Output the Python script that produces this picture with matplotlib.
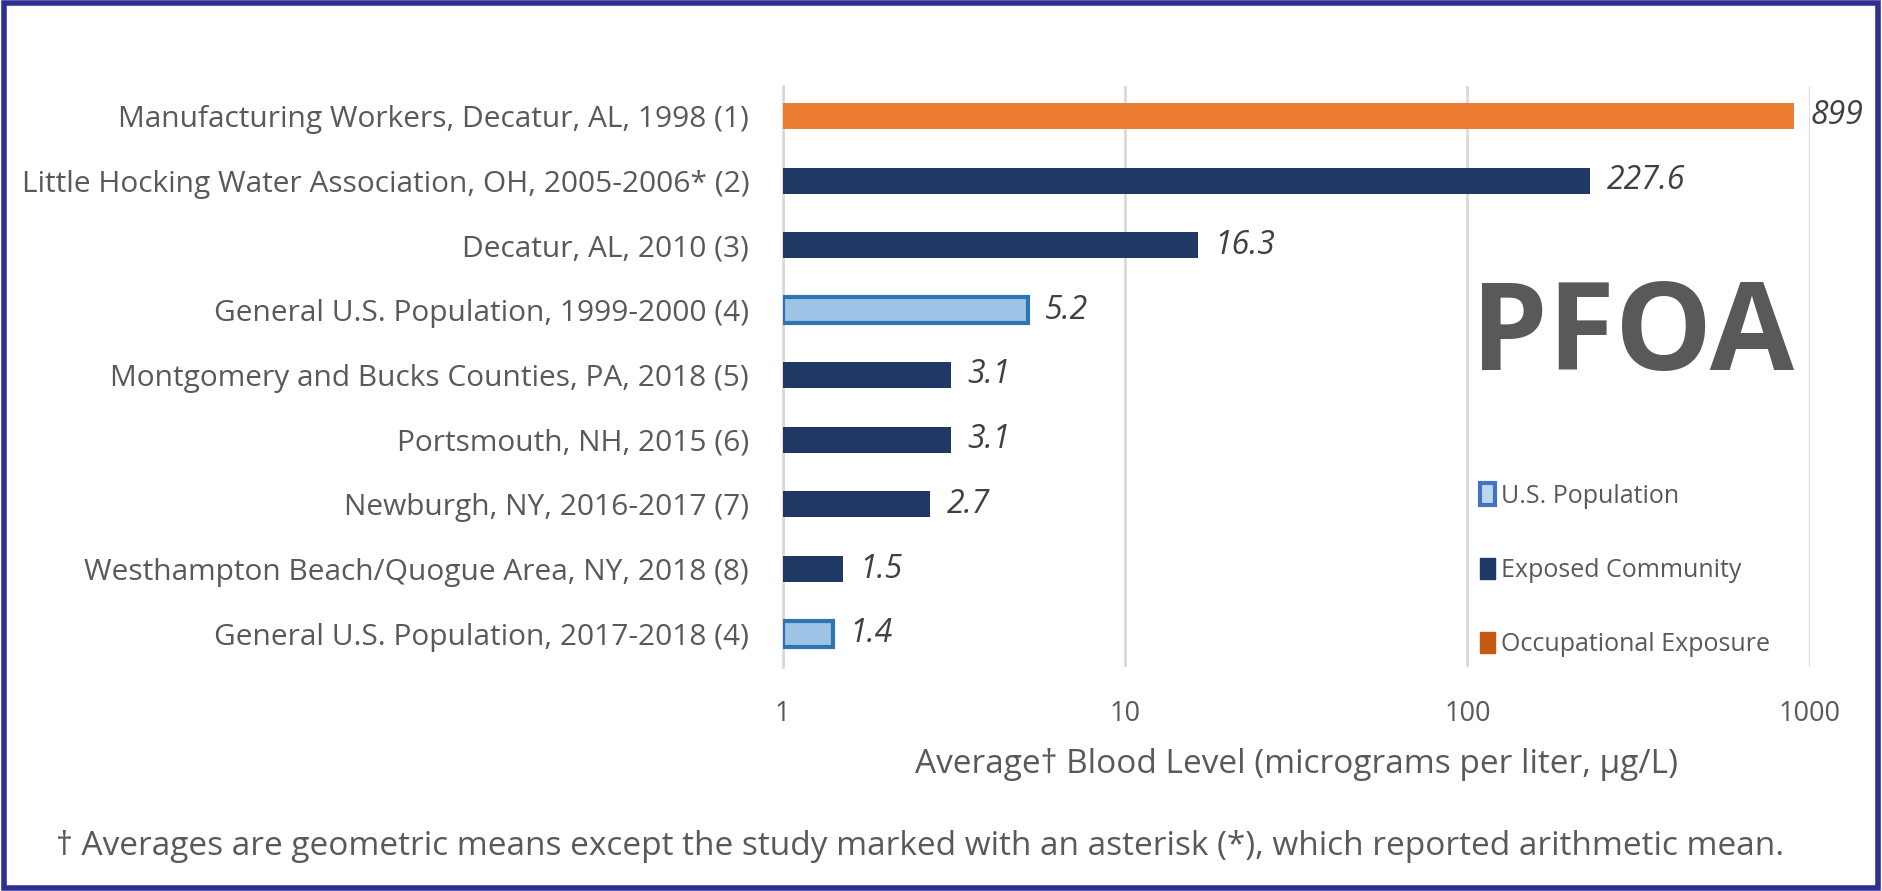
import matplotlib
matplotlib.use("Agg")
import matplotlib.pyplot as plt
from matplotlib.patches import Patch, Rectangle

# ------------ data --------------
studies = [
    "Manufacturing Workers, Decatur, AL, 1998 (1)",
    "Little Hocking Water Association, OH, 2005-2006* (2)",
    "Decatur, AL, 2010 (3)",
    "General U.S. Population, 1999-2000 (4)",
    "Montgomery and Bucks Counties, PA, 2018 (5)",
    "Portsmouth, NH, 2015 (6)",
    "Newburgh, NY, 2016-2017 (7)",
    "Westhampton Beach/Quogue Area, NY, 2018 (8)",
    "General U.S. Population, 2017-2018 (4)",
]
levels = [899, 227.6, 16.3, 5.2, 3.1, 3.1, 2.7, 1.5, 1.4]
level_labels = ["899", "227.6", "16.3", "5.2", "3.1", "3.1", "2.7", "1.5", "1.4"]
groups = ["occ", "exp", "exp", "us", "exp", "exp", "exp", "exp", "us"]
ticks = [1, 10, 100, 1000]

# ------------ styles --------------
FILL = {"occ": "#ED7D31", "exp": "#1F3864", "us": "#9DC3E6"}
EDGE = {"occ": "#ED7D31", "exp": "#1F3864", "us": "#2E75B6"}
TEXT = "#595959"

plt.rcParams["font.family"] = ["Open Sans", "DejaVu Sans"]

fig = plt.figure(figsize=(18.82, 8.91), dpi=100)
ax = fig.add_axes([0.4158, 0.2514, 0.5459, 0.6521])

y = list(range(len(studies)))
for i, (v, g) in enumerate(zip(levels, groups)):
    lw = 3 if g == "us" else 0
    ax.barh(i, v - 1, left=1, height=0.40, color=FILL[g], edgecolor=EDGE[g],
            linewidth=lw, zorder=3)
    ax.annotate(level_labels[i], (v, i), xytext=(12, 0), textcoords="offset points",
                va="center", ha="left", fontsize=23, style="italic", color="#404040")

ax.set_xscale("log")
ax.set_xlim(1, 1000)
ax.set_ylim(8.51, -0.46)
ax.set_yticks(y)
ax.set_yticklabels(studies)
ax.set_xticks(ticks)
ax.set_xticklabels([str(t) for t in ticks])
ax.minorticks_off()
ax.tick_params(axis="y", length=0, pad=24, labelsize=21.5, labelcolor=TEXT)
ax.tick_params(axis="x", length=0, pad=24, labelsize=19.5, labelcolor=TEXT)
ax.grid(axis="x", color="#D9D9D9", linewidth=2, zorder=0)
for s in ["top", "right", "bottom"]:
    ax.spines[s].set_visible(False)
ax.spines["left"].set_color("#D9D9D9")
ax.spines["left"].set_linewidth(2)

ax.set_xlabel("Average\u2020 Blood Level (micrograms per liter, \u00b5g/L)",
              fontsize=24, color=TEXT, labelpad=14)

# big compound label
ax.text(0.827, 0.566, "PFOA", transform=ax.transAxes, ha="center", va="center",
        fontsize=88, fontweight="bold", color=TEXT)

handles = [
    Patch(facecolor="#BDD7EE", edgecolor="#4472C4", linewidth=3, label="U.S. Population"),
    Patch(facecolor="#1F3864", edgecolor="#1F3864", label="Exposed Community"),
    Patch(facecolor="#C55A11", edgecolor="#C55A11", label="Occupational Exposure"),
]
ax.legend(handles=handles, loc="upper left", bbox_to_anchor=(0.679, 0.316),
          frameon=False, fontsize=18, labelcolor=TEXT, handlelength=0.6,
          handleheight=0.95, handletextpad=0.25, labelspacing=1.95,
          borderpad=0, borderaxespad=0)

fig.text(0.030, 0.050, "\u2020 Averages are geometric means except the study marked with an "
         "asterisk (*), which reported arithmetic mean.", fontsize=24, color=TEXT,
         va="center")

# dark blue frame around the whole picture
fig.patches.append(Rectangle((0.002, 0.003), 0.996, 0.994, transform=fig.transFigure,
                             fill=False, edgecolor="#2E3192", linewidth=4))

fig.savefig("out.png", dpi=100)
